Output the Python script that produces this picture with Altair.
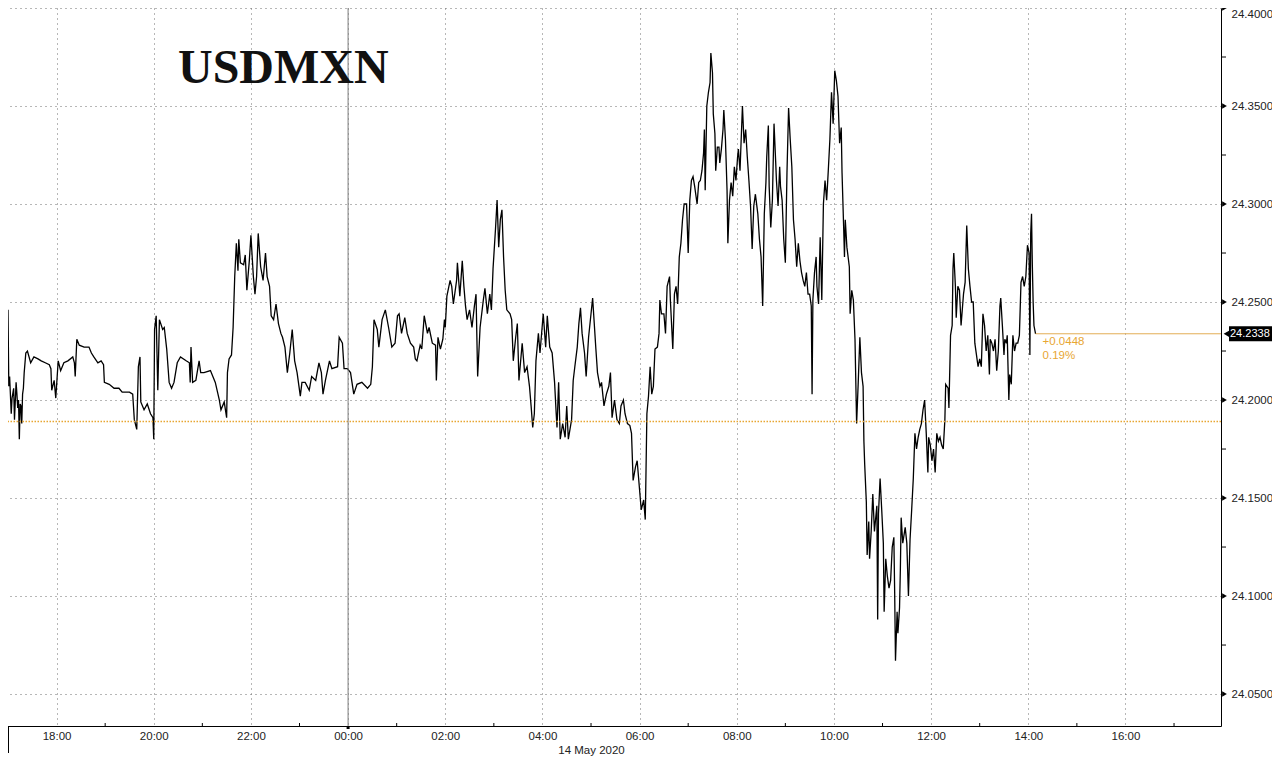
import altair as alt
import pandas as pd

# ---------------- data ----------------
times = [
    "17:00", "17:01", "17:02", "17:04", "17:05", "17:07", "17:08", "17:10", "17:11", "17:12",
    "17:13", "17:14", "17:15", "17:16", "17:17", "17:18", "17:19", "17:20", "17:22", "17:24",
    "17:28", "17:32", "17:37", "17:41", "17:46", "17:51", "17:53", "17:54", "17:57", "17:59",
    "18:02", "18:05", "18:09", "18:14", "18:20", "18:22", "18:23", "18:25", "18:28", "18:34",
    "18:40", "18:43", "18:46", "18:51", "18:55", "18:58", "18:59", "19:05", "19:11", "19:17",
    "19:21", "19:30", "19:34", "19:36", "19:39", "19:41", "19:43", "19:44", "19:48", "19:52",
    "19:56", "19:59", "20:00", "20:01", "20:03", "20:05", "20:07", "20:11", "20:13", "20:16",
    "20:19", "20:22", "20:25", "20:29", "20:33", "20:40", "20:44", "20:45", "20:46", "20:48",
    "20:52", "20:56", "20:58", "21:02", "21:10",
    "21:13", "21:16", "21:21", "21:23", "21:27", "21:30", "21:31", "21:33", "21:36", "21:38",
    "21:40", "21:42", "21:44", "21:45", "21:47", "21:51", "21:53", "21:55", "21:58", "22:00",
    "22:03", "22:05", "22:07", "22:09", "22:12", "22:15", "22:18", "22:20", "22:23", "22:25",
    "22:28", "22:31", "22:34", "22:37", "22:39", "22:42", "22:45", "22:48", "22:51", "22:54",
    "22:57", "23:01", "23:03", "23:07", "23:12", "23:15", "23:20", "23:24", "23:27", "23:29",
    "23:32", "23:37", "23:40", "23:47", "23:49", "23:53", "23:55", "23:59", "00:03", "00:07",
    "00:11", "00:17", "00:24", "00:28", "00:30", "00:32", "00:36", "00:38", "00:42", "00:46",
    "00:50", "00:54", "00:58", "01:01", "01:03", "01:06", "01:10", "01:13", "01:17", "01:21",
    "01:23",
    "01:25", "01:29", "01:31", "01:34", "01:38", "01:40", "01:44", "01:48", "01:49", "01:51",
    "01:54", "01:57", "01:59", "02:00", "02:02", "02:06", "02:08", "02:10", "02:14", "02:15",
    "02:18", "02:21", "02:23", "02:25", "02:27", "02:30", "02:33", "02:36", "02:38", "02:40",
    "02:43", "02:47", "02:49", "02:52", "02:55", "02:57", "02:59", "03:02", "03:04", "03:06",
    "03:08", "03:10", "03:12", "03:14", "03:16", "03:20", "03:22", "03:24", "03:27", "03:29",
    "03:31", "03:35", "03:38", "03:41", "03:44", "03:46", "03:48", "03:50", "03:52", "03:55",
    "03:57", "04:01", "04:04", "04:06", "04:09", "04:12", "04:15", "04:17", "04:18", "04:20",
    "04:22", "04:25", "04:28", "04:30", "04:32", "04:36", "04:38", "04:40", "04:43", "04:45",
    "04:47", "04:49", "04:52", "04:54", "04:57", "05:00", "05:02", "05:04", "05:06", "05:08",
    "05:11", "05:13", "05:16", "05:19", "05:22", "05:24", "05:26", "05:29", "05:32", "05:35",
    "05:37", "05:40", "05:42", "05:45", "05:48", "05:50", "05:52", "05:55", "05:57", "06:00",
    "06:02", "06:05", "06:07", "06:09", "06:11",
    "06:13", "06:15", "06:17", "06:19", "06:22", "06:24", "06:25", "06:27", "06:30", "06:32",
    "06:34", "06:37", "06:38", "06:41", "06:43", "06:45", "06:47", "06:49", "06:51", "06:53",
    "06:55", "06:58", "07:00", "07:02", "07:04", "07:06", "07:08", "07:11", "07:13", "07:15",
    "07:17", "07:19", "07:20", "07:21", "07:23", "07:25", "07:27", "07:28", "07:30", "07:31",
    "07:33", "07:34", "07:36", "07:38", "07:39", "07:41", "07:43", "07:44", "07:46", "07:48",
    "07:49", "07:51", "07:53", "07:55", "07:57", "07:59", "08:01", "08:02", "08:04", "08:06",
    "08:07", "08:09", "08:11", "08:13", "08:15", "08:17", "08:19", "08:21", "08:23", "08:26",
    "08:28", "08:30", "08:32", "08:34", "08:36", "08:37", "08:39", "08:40", "08:42", "08:44",
    "08:46", "08:48", "08:49", "08:51", "08:53", "08:54", "08:56", "08:58", "09:00", "09:02",
    "09:04", "09:06", "09:08", "09:10", "09:12", "09:14", "09:16", "09:18", "09:20", "09:22",
    "09:24", "09:26", "09:28", "09:30", "09:32", "09:33", "09:34", "09:36", "09:38", "09:39",
    "09:41", "09:43", "09:45", "09:47", "09:49", "09:51", "09:53", "09:55", "09:57", "09:59",
    "10:01", "10:03", "10:05", "10:07", "10:09", "10:10", "10:12", "10:13", "10:14", "10:16",
    "10:19", "10:20", "10:22", "10:24", "10:26", "10:28", "10:30", "10:32", "10:34", "10:36",
    "10:37", "10:38", "10:40", "10:41", "10:43", "10:44", "10:46", "10:48", "10:50", "10:53",
    "10:54", "10:55", "10:57", "10:59", "11:01", "11:02", "11:04", "11:06", "11:08", "11:10",
    "11:12", "11:14", "11:15", "11:16", "11:18", "11:19", "11:21", "11:22", "11:23", "11:25",
    "11:28", "11:30", "11:32", "11:34", "11:36", "11:38", "11:40", "11:42", "11:44", "11:46",
    "11:48", "11:50", "11:52", "11:54", "11:56", "11:57", "11:59", "12:01", "12:03", "12:05",
    "12:07", "12:09", "12:11", "12:13", "12:15", "12:17", "12:18", "12:21", "12:22", "12:24",
    "12:26", "12:27", "12:28", "12:30", "12:31", "12:33", "12:35", "12:37", "12:40", "12:42",
    "12:44", "12:46", "12:48", "12:50", "12:52", "12:54", "12:56", "12:58", "13:00", "13:02",
    "13:04", "13:06", "13:08", "13:10", "13:12", "13:13", "13:15", "13:17", "13:19", "13:21",
    "13:23", "13:25", "13:26", "13:28", "13:30", "13:31", "13:33", "13:34", "13:36", "13:37",
    "13:39", "13:41", "13:43", "13:45", "13:47", "13:49", "13:51", "13:53", "13:55", "13:57",
    "13:59", "14:01", "14:02", "14:03", "14:04", "14:05", "14:06", "14:07", "14:09",
]

prices = [
    24.246, 24.207, 24.212, 24.193, 24.201, 24.206, 24.190, 24.209, 24.203, 24.196,
    24.200, 24.180, 24.198, 24.197, 24.188, 24.203, 24.206, 24.214, 24.224, 24.225,
    24.219, 24.222, 24.221, 24.220, 24.219, 24.218, 24.216, 24.205, 24.210, 24.201,
    24.220, 24.215, 24.219, 24.220, 24.222, 24.219, 24.212, 24.231, 24.228, 24.227,
    24.227, 24.224, 24.222, 24.219, 24.220, 24.218, 24.209, 24.208, 24.206, 24.206,
    24.204, 24.204, 24.203, 24.190, 24.185, 24.217, 24.222, 24.199, 24.195, 24.198,
    24.193, 24.191, 24.180, 24.236, 24.243, 24.205, 24.241, 24.236, 24.237, 24.226,
    24.209, 24.206, 24.209, 24.219, 24.222, 24.220, 24.219, 24.209, 24.227, 24.209,
    24.210, 24.220, 24.214, 24.214, 24.215,
    24.212, 24.209, 24.200, 24.195, 24.199, 24.191, 24.214, 24.221, 24.223, 24.237,
    24.263, 24.280, 24.266, 24.282, 24.270, 24.269, 24.274, 24.256, 24.271, 24.284,
    24.263, 24.254, 24.263, 24.285, 24.268, 24.261, 24.275, 24.263, 24.258, 24.243,
    24.241, 24.249, 24.239, 24.234, 24.232, 24.227, 24.214, 24.224, 24.236, 24.220,
    24.214, 24.202, 24.209, 24.209, 24.205, 24.212, 24.210, 24.219, 24.214, 24.203,
    24.210, 24.220, 24.216, 24.217, 24.232, 24.229, 24.216, 24.216, 24.214, 24.203,
    24.208, 24.209, 24.206, 24.208, 24.217, 24.241, 24.236, 24.227, 24.241, 24.246,
    24.237, 24.227, 24.229, 24.243, 24.244, 24.234, 24.242, 24.234, 24.229, 24.227,
    24.221,
    24.220, 24.228, 24.226, 24.243, 24.234, 24.237, 24.229, 24.228, 24.210, 24.232,
    24.226, 24.231, 24.241, 24.237, 24.253, 24.261, 24.258, 24.249, 24.261, 24.270,
    24.253, 24.271, 24.258, 24.248, 24.241, 24.246, 24.237, 24.248, 24.254, 24.212,
    24.237, 24.251, 24.257, 24.244, 24.254, 24.246, 24.267, 24.287, 24.302, 24.278,
    24.292, 24.297, 24.273, 24.256, 24.246, 24.244, 24.241, 24.220, 24.232, 24.239,
    24.210, 24.229, 24.214, 24.217, 24.207, 24.197, 24.186, 24.193, 24.220, 24.234,
    24.224, 24.244, 24.227, 24.243, 24.227, 24.224, 24.209, 24.193, 24.186, 24.209,
    24.180, 24.188, 24.181, 24.197, 24.180, 24.190, 24.210, 24.217, 24.227, 24.239,
    24.247, 24.234, 24.224, 24.212, 24.232, 24.244, 24.252, 24.239, 24.226, 24.214,
    24.207, 24.209, 24.197, 24.203, 24.207, 24.214, 24.191, 24.200, 24.190, 24.188,
    24.197, 24.200, 24.193, 24.188, 24.187, 24.183, 24.159, 24.166, 24.169, 24.154,
    24.144, 24.149, 24.139, 24.193, 24.202,
    24.217, 24.203, 24.207, 24.226, 24.227, 24.234, 24.251, 24.244, 24.244, 24.234,
    24.258, 24.263, 24.251, 24.226, 24.254, 24.258, 24.249, 24.273, 24.280, 24.292,
    24.300, 24.300, 24.275, 24.302, 24.312, 24.314, 24.309, 24.300, 24.311, 24.312,
    24.317, 24.326, 24.338, 24.307, 24.350, 24.357, 24.362, 24.377, 24.367, 24.346,
    24.336, 24.317, 24.329, 24.329, 24.321, 24.328, 24.338, 24.348, 24.333, 24.307,
    24.280, 24.302, 24.311, 24.304, 24.319, 24.312, 24.324, 24.328, 24.317, 24.339,
    24.350, 24.331, 24.338, 24.324, 24.312, 24.299, 24.277, 24.299, 24.305, 24.295,
    24.282, 24.273, 24.248, 24.295, 24.311, 24.324, 24.340, 24.309, 24.288, 24.302,
    24.341, 24.322, 24.312, 24.299, 24.319, 24.309, 24.302, 24.282, 24.270, 24.316,
    24.349, 24.333, 24.319, 24.292, 24.282, 24.268, 24.280, 24.271, 24.265, 24.261,
    24.258, 24.265, 24.254, 24.254, 24.248, 24.203, 24.251, 24.265, 24.273, 24.258,
    24.249, 24.283, 24.251, 24.300, 24.312, 24.302, 24.317, 24.333, 24.357, 24.341,
    24.368, 24.363, 24.355, 24.331, 24.339, 24.316, 24.288, 24.273, 24.292, 24.278,
    24.268, 24.244, 24.256, 24.251, 24.231, 24.188, 24.209, 24.232, 24.214, 24.207,
    24.179, 24.167, 24.148, 24.121, 24.138, 24.119, 24.133, 24.152, 24.133, 24.146,
    24.088, 24.142, 24.160, 24.144, 24.127, 24.092, 24.119, 24.110, 24.104, 24.108,
    24.125, 24.130, 24.102, 24.067, 24.092, 24.081, 24.094, 24.113, 24.140, 24.127,
    24.135, 24.127, 24.100, 24.129, 24.144, 24.160, 24.183, 24.175, 24.181, 24.185,
    24.188, 24.195, 24.200, 24.183, 24.163, 24.181, 24.177, 24.169, 24.175, 24.163,
    24.183, 24.179, 24.181, 24.177, 24.175, 24.190, 24.208, 24.206, 24.196, 24.233,
    24.238, 24.267, 24.275, 24.258, 24.242, 24.258, 24.256, 24.238, 24.254, 24.260,
    24.289, 24.267, 24.258, 24.250, 24.250, 24.229, 24.223, 24.217, 24.221, 24.217,
    24.244, 24.238, 24.225, 24.233, 24.213, 24.231, 24.229, 24.225, 24.231, 24.215,
    24.225, 24.248, 24.252, 24.238, 24.223, 24.231, 24.229, 24.233, 24.200, 24.213,
    24.208, 24.233, 24.225, 24.229, 24.229, 24.233, 24.260, 24.263, 24.258, 24.263,
    24.279, 24.275, 24.223, 24.285, 24.295, 24.269, 24.250, 24.238, 24.2338,
]

y_ticks = [24.05, 24.10, 24.15, 24.20, 24.25, 24.30, 24.35, 24.40]
y_minor = [24.075, 24.125, 24.175, 24.225, 24.275, 24.325, 24.375]
x_major = ["18:00", "20:00", "22:00", "00:00", "02:00", "04:00",
           "06:00", "08:00", "10:00", "12:00", "14:00", "16:00"]
x_minor = ["19:00", "21:00", "23:00", "01:00", "03:00", "05:00",
           "07:00", "09:00", "11:00", "13:00", "15:00"]
title_text = "USDMXN"
date_label = "14 May 2020"
last_price = 24.2338
prev_close = 24.1890
change_abs = "+0.0448"
change_pct = "0.19%"
last_price_label = "24.2338"


def ts(hm, day=None):
    h, m = map(int, hm.split(":"))
    if day is None:
        day = 13 if h >= 17 else 14
    return pd.Timestamp(2020, 5, day, h, m)


def dt(hm, day=None):
    t = ts(hm, day)
    return alt.DateTime(year=t.year, month=t.month, date=t.day,
                        hours=t.hour, minutes=t.minute)


W, H = 1213, 718
ORANGE = "#E8A632"
FONT = "Liberation Sans"

line_df = pd.DataFrame({"t": [ts(x) for x in times], "p": prices})

xscale = alt.Scale(domain=[dt("17:00", 13), dt("17:58", 14)])
yscale = alt.Scale(domain=[24.0337, 24.40], zero=False, nice=False)

xaxis = alt.Axis(
    values=[dt(x) for x in x_major], format="%H:%M",
    labelFont=FONT, labelFontSize=11.5, labelColor="#222", labelPadding=4,
    labelFlush=False, labelOverlap=False, ticks=False,
    domainColor="black", domainWidth=1,
    grid=True, gridColor="#6f6f6f", gridDash=[1, 4], gridWidth=1,
    title=date_label, titleFont=FONT, titleFontSize=11.5, titleFontWeight="normal",
    titleColor="#222", titleX=583, titleY=27, titleBaseline="alphabetic",
    titleAlign="center",
)
yaxis = alt.Axis(
    orient="right", values=y_ticks, format=".4f",
    labelFont=FONT, labelFontSize=11.5, labelColor="#222", labelPadding=10,
    labelFlush=True, labelOverlap=False, ticks=False,
    domainColor="black", domainWidth=1,
    grid=True, gridColor="#6f6f6f", gridDash=[1, 4], gridWidth=1,
    title=None,
)


def X(field="t:T"):
    return alt.X(field, scale=xscale, axis=xaxis)


def Y(field="p:Q"):
    return alt.Y(field, scale=yscale, axis=yaxis)


series = alt.Chart(line_df).mark_line(color="black", strokeWidth=1.3).encode(
    x=X(), y=Y()
)

prev_line = alt.Chart(pd.DataFrame({"p": [prev_close]})).mark_rule(
    color=ORANGE, strokeDash=[1.5, 1.5], strokeWidth=1.5
).encode(y=Y())

midnight = alt.Chart(pd.DataFrame({"t": [ts("00:00")]})).mark_rule(
    color="#7c7c7c", strokeWidth=1
).encode(x=X())

midnight_tick = alt.Chart(pd.DataFrame({"t": [ts("00:00")]})).mark_rule(
    color="black", strokeWidth=3
).encode(x=X(), y=alt.value(H), y2=alt.value(H + 3))

x_minor_df = pd.DataFrame({"t": [ts(x) for x in x_minor] + [ts("17:00", 14)]})
x_minor_ticks = alt.Chart(x_minor_df).mark_rule(color="black", strokeWidth=1).encode(
    x=X(), y=alt.value(H - 3), y2=alt.value(H)
)

start_mark = alt.Chart(pd.DataFrame({"a": [0]})).mark_rule(
    color="black", strokeWidth=1
).encode(x=alt.value(0.5), y=alt.value(H), y2=alt.value(H + 27))

y_minor_ticks = alt.Chart(pd.DataFrame({"p": y_minor})).mark_rule(
    color="black", strokeWidth=1
).encode(y=Y(), x=alt.value(W + 1), x2=alt.value(W + 5))

y_major_tri = alt.Chart(pd.DataFrame({"p": y_ticks})).mark_point(
    shape="triangle-right", filled=True, color="black", size=30, opacity=1
).encode(y=Y(), x=alt.value(W + 3.5))

last_df = pd.DataFrame({
    "t": [ts(times[-1])], "t2": [ts("17:58", 14)], "p": [last_price],
    "a": [change_abs], "b": [change_pct], "lbl": [last_price_label],
})

last_line = alt.Chart(last_df).mark_rule(color="#E3AE55", strokeWidth=1).encode(
    x=X(), x2="t2:T", y=Y()
)
chg_abs = alt.Chart(last_df).mark_text(
    align="left", baseline="alphabetic", dx=7, dy=11.5, color=ORANGE,
    font=FONT, fontSize=11.5
).encode(x=X(), y=Y(), text="a:N")
chg_pct = alt.Chart(last_df).mark_text(
    align="left", baseline="alphabetic", dx=7, dy=25.5, color=ORANGE,
    font=FONT, fontSize=11.5
).encode(x=X(), y=Y(), text="b:N")

box = alt.Chart(last_df).mark_rule(color="black", strokeWidth=15, strokeCap="butt").encode(
    y=Y(), x=alt.value(W + 8), x2=alt.value(W + 52)
)
box_tip = alt.Chart(last_df).mark_point(
    shape="triangle-left", filled=True, color="black", size=60, opacity=1
).encode(y=Y(), x=alt.value(W + 6))
box_text = alt.Chart(last_df).mark_text(
    align="left", baseline="middle", color="white", font=FONT, fontSize=11
).encode(y=Y(), x=alt.value(W + 9), text="lbl:N")

title = alt.Chart(pd.DataFrame({"label": [title_text]})).mark_text(
    font="Liberation Serif", fontSize=48, fontWeight="bold", align="left",
    baseline="alphabetic", color="#111"
).encode(x=alt.value(170), y=alt.value(74.7), text="label:N")

chart = alt.layer(
    series, prev_line, midnight, midnight_tick, x_minor_ticks, start_mark,
    y_minor_ticks, y_major_tri, last_line, chg_abs, chg_pct,
    box, box_tip, box_text, title,
).properties(
    width=W, height=H,
    autosize=alt.AutoSizeParams(type="none"),
    padding={"left": 0, "top": 0, "right": 51, "bottom": 30},
    background="white",
).configure_view(stroke=None)

chart.save("out.html", embed_options={"renderer": "svg", "actions": False})
